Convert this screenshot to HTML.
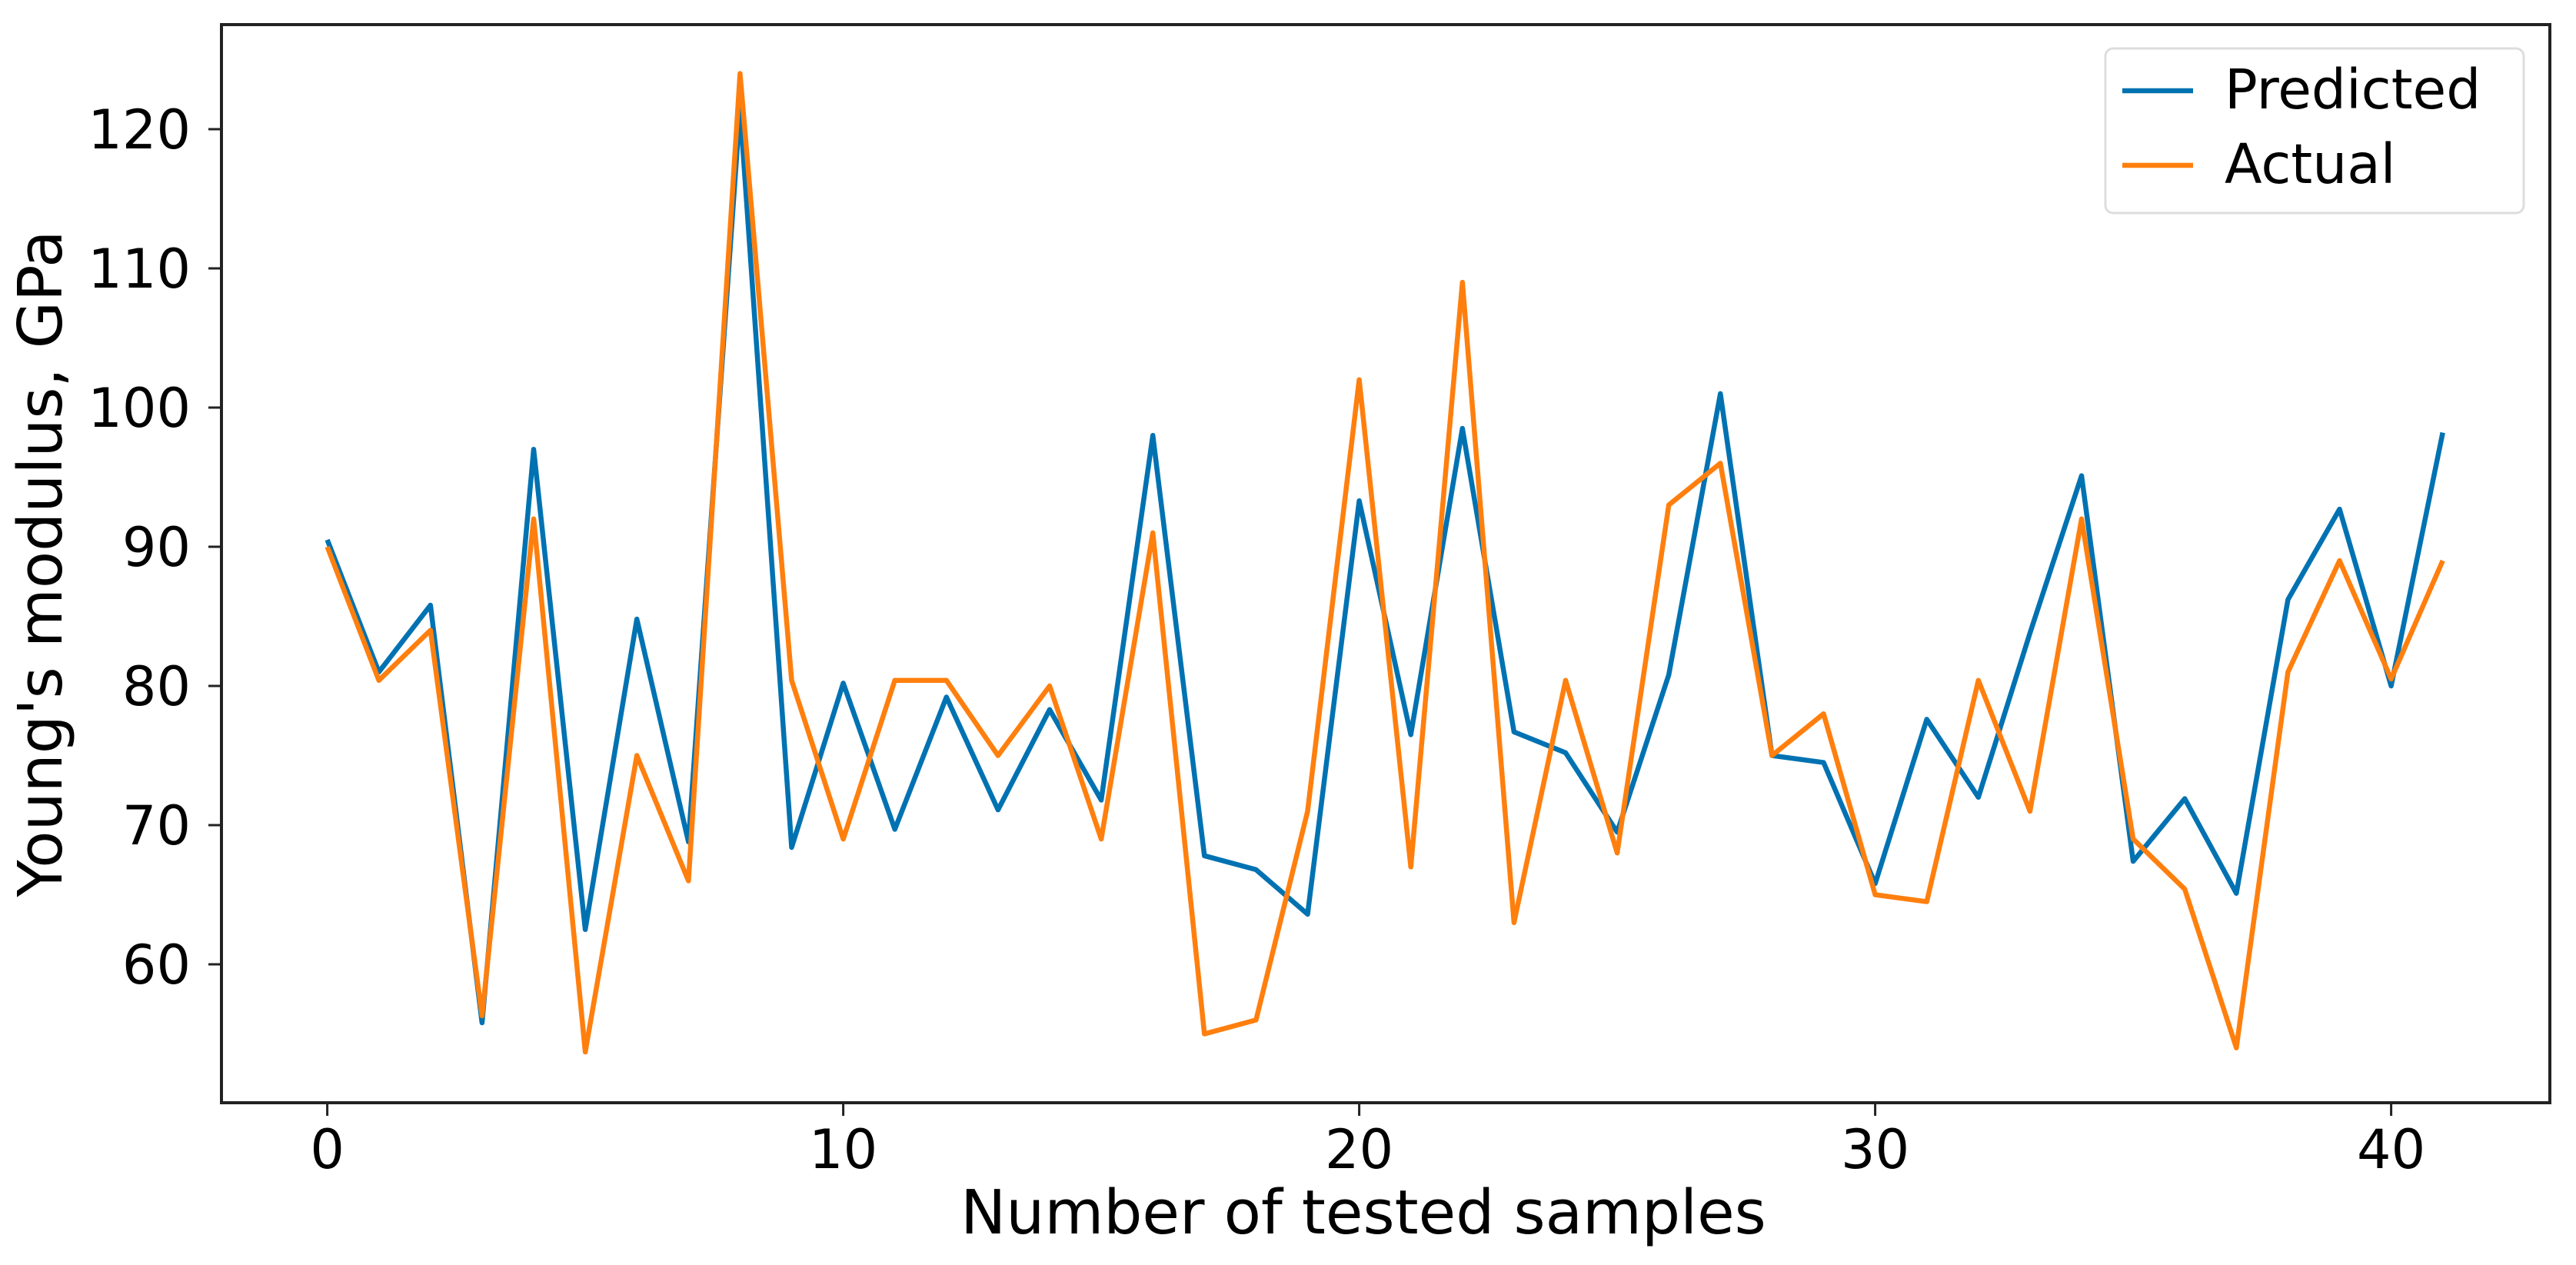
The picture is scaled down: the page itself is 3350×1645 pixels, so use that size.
<!DOCTYPE html>
<html><head><meta charset="utf-8"><style>
html,body{margin:0;padding:0;background:#fff;}
svg{display:block;font-family:"DejaVu Sans","Liberation Sans",sans-serif;}
</style></head><body>
<svg id="chart" width="3350" height="1645" viewBox="0 0 3350 1645" xmlns="http://www.w3.org/2000/svg">
<rect x="288" y="32" width="3028" height="1402" fill="none" stroke="#222" stroke-width="4"/>
<g id="xticks"></g>
<g id="yticks"></g>
<g id="series"></g>
<text x="1773" y="1604" font-size="79" text-anchor="middle">Number of tested samples</text>
<text transform="translate(80,733) rotate(-90)" font-size="79" text-anchor="middle">Young's modulus, GPa</text>
<g>
<rect x="2738" y="63" width="544" height="214" rx="10" fill="#fff" stroke="#ddd" stroke-width="3"/>
<line x1="2760" y1="118" x2="2852" y2="118" stroke="#0072b2" stroke-width="6.5"/>
<text x="2893" y="141" font-size="71">Predicted</text>
<line x1="2760" y1="215" x2="2852" y2="215" stroke="#ff7f0e" stroke-width="6.5"/>
<text x="2893" y="238" font-size="71">Actual</text>
</g>
</svg>
<script>
const predicted = [90.5,81,85.8,55.8,97,62.5,84.8,68.8,121.5,68.4,80.2,69.7,79.2,71.1,78.3,71.8,98,67.8,66.8,63.6,93.3,76.5,98.5,76.7,75.2,69.5,80.8,101,75,74.5,65.8,77.6,72,83.8,95.1,67.4,71.9,65.1,86.2,92.7,80,98.2];
const actual = [90,80.4,84,56.3,92,53.7,75,66,124,80.4,69,80.4,80.4,75,80,69,91,55,56,71,102,67,109,63,80.4,68,93,96,75,78,65,64.5,80.4,71,92,69,65.4,54,81,89,80.5,89];
const xTickValues = [0,10,20,30,40];
const yTickValues = [60,70,80,90,100,110,120];
const NS = "http://www.w3.org/2000/svg";
function xs(v){ return 425.6 + v*67.1; }
function ys(v){ return 168 + (120 - v)*18.1; }
const xg = document.getElementById('xticks');
xTickValues.forEach(v=>{
  const l=document.createElementNS(NS,'line');
  
  
  l.setAttribute('x1',xs(v));l.setAttribute('x2',xs(v));l.setAttribute('y1',1434);l.setAttribute('y2',1451);
  l.setAttribute('stroke','#222');l.setAttribute('stroke-width','3');xg.appendChild(l);
  const t=document.createElementNS(NS,'text');
  
  
  t.setAttribute('x',xs(v));t.setAttribute('y',1519);t.setAttribute('font-size','70');t.setAttribute('text-anchor','middle');
  t.textContent=v;xg.appendChild(t);
});
const yg = document.getElementById('yticks');
yTickValues.forEach(v=>{
  const l=document.createElementNS(NS,'line');
  
  
  l.setAttribute('x1',271);l.setAttribute('x2',288);l.setAttribute('y1',ys(v));l.setAttribute('y2',ys(v));
  l.setAttribute('stroke','#222');l.setAttribute('stroke-width','3');yg.appendChild(l);
  const t=document.createElementNS(NS,'text');
  
  
  t.setAttribute('x',248);t.setAttribute('y',ys(v)+25);t.setAttribute('font-size','70');t.setAttribute('text-anchor','end');
  t.textContent=v;yg.appendChild(t);
});
const sg=document.getElementById('series');
function drawLine(arr,color,name){
  const p=document.createElementNS(NS,'polyline');
  
  
  p.setAttribute('points',arr.map((v,i)=>xs(i)+','+ys(v)).join(' '));
  p.setAttribute('fill','none');p.setAttribute('stroke',color);p.setAttribute('stroke-width','6.5');
  p.setAttribute('stroke-linejoin','round');
  sg.appendChild(p);
}
drawLine(predicted,'#0072b2','predicted-line');
drawLine(actual,'#ff7f0e','actual-line');
</script>
</body></html>
